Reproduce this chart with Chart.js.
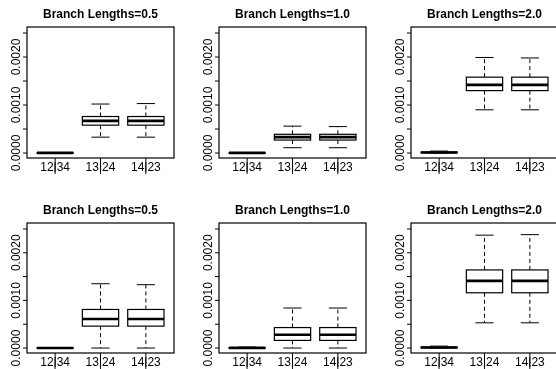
<!DOCTYPE html>
<html>
<head>
<meta charset="utf-8">
<script src="https://cdn.jsdelivr.net/npm/chart.js@4.4.1/dist/chart.umd.min.js"></script>
<style>
  html, body { margin: 0; padding: 0; background: #fff; overflow: hidden; }
  #wrap { position: relative; width: 556px; height: 369px; overflow: hidden; }
  #wrap canvas { position: absolute; }
</style>
</head>
<body>
<div id="wrap"></div>
<script>
// split names on the x axis and panel titles
var splits = ['12|34', '13|24', '14|23'];
var panelTitles = ['Branch Lengths=0.5', 'Branch Lengths=1.0', 'Branch Lengths=2.0'];

// y axis ticks (only every other one gets a label)
var yTicks = [0, 0.0005, 0.0010, 0.0015, 0.0020, 0.0025];
var yTickLabels = ['0.0000', '', '0.0010', '', '0.0020', ''];

// top row: per panel, one value per split
var topLow    = [[0, 0.00033, 0.00033], [0, 0.00011, 0.00011], [0, 0.00090, 0.00090]];
var topQ1     = [[0, 0.00058, 0.00058], [0, 0.00027, 0.00027], [0.000005, 0.00130, 0.00130]];
var topMedian = [[0.000002, 0.00067, 0.00067], [0.000002, 0.00033, 0.00033], [0.00001, 0.00142, 0.00142]];
var topQ3     = [[0.000004, 0.00076, 0.00076], [0.000005, 0.00039, 0.00039], [0.00002, 0.00158, 0.00158]];
var topHigh   = [[0.000008, 0.00102, 0.00103], [0.00001, 0.00056, 0.00055], [0.00004, 0.00199, 0.00198]];

// bottom row
var botLow    = [[0, 0, 0], [0, 0, 0], [0, 0.00053, 0.00053]];
var botQ1     = [[0, 0.00046, 0.00046], [0, 0.00016, 0.00016], [0.000005, 0.00116, 0.00116]];
var botMedian = [[0.000002, 0.00061, 0.00061], [0.000003, 0.00028, 0.00028], [0.00001, 0.00141, 0.00141]];
var botQ3     = [[0.000004, 0.00081, 0.00081], [0.000006, 0.00043, 0.00043], [0.00002, 0.00164, 0.00164]];
var botHigh   = [[0.000008, 0.00135, 0.00133], [0.00002, 0.00084, 0.00084], [0.00004, 0.00237, 0.00238]];

var boxLefts = [27, 219, 411];
var boxTops = [27, 223];
var boxW = 147, boxH = [131, 130];
var FONT = "'Liberation Sans', Arial, Helvetica, sans-serif";

// R style boxplot: frame, axes and boxes drawn through the chart scales
var rBoxplot = {
  id: 'rBoxplot',
  afterDatasetsDraw: function(chart) {
    var ctx = chart.ctx;
    var a = chart.chartArea;
    var xs = chart.scales.x, ys = chart.scales.y;
    var st = chart.options.plugins.rBoxplot;
    var unit = xs.getPixelForValue(2) - xs.getPixelForValue(1);
    ctx.save();
    ctx.strokeStyle = '#000';
    ctx.fillStyle = '#000';

    // boxes
    for (var i = 0; i < splits.length; i++) {
      var xc = xs.getPixelForValue(i + 1);
      var half = unit * 0.4, staple = unit * 0.2;
      var yLo = ys.getPixelForValue(st.low[i]);
      var yQ1 = ys.getPixelForValue(st.q1[i]);
      var yMed = ys.getPixelForValue(st.median[i]);
      var yQ3 = ys.getPixelForValue(st.q3[i]);
      var yHi = ys.getPixelForValue(st.high[i]);

      ctx.lineWidth = 1;
      ctx.setLineDash([4, 3]);
      ctx.beginPath();
      ctx.moveTo(xc, yQ3); ctx.lineTo(xc, yHi);
      ctx.moveTo(xc, yQ1); ctx.lineTo(xc, yLo);
      ctx.stroke();
      ctx.setLineDash([]);

      ctx.beginPath();
      ctx.moveTo(xc - staple, yHi); ctx.lineTo(xc + staple, yHi);
      ctx.moveTo(xc - staple, yLo); ctx.lineTo(xc + staple, yLo);
      ctx.stroke();

      ctx.fillStyle = '#fff';
      ctx.fillRect(xc - half, yQ3, half * 2, yQ1 - yQ3);
      ctx.lineWidth = 1.2;
      ctx.strokeRect(xc - half, yQ3, half * 2, yQ1 - yQ3);

      ctx.lineWidth = 2.6;
      ctx.beginPath();
      ctx.moveTo(xc - half, yMed); ctx.lineTo(xc + half, yMed);
      ctx.stroke();
    }

    // frame
    ctx.lineWidth = 1.2;
    ctx.strokeRect(a.left, a.top, a.right - a.left, a.bottom - a.top);

    // y axis
    ctx.lineWidth = 1;
    ctx.fillStyle = '#000';
    ctx.font = '12px ' + FONT;
    ctx.textAlign = 'center';
    ctx.textBaseline = 'alphabetic';
    ctx.beginPath();
    yTicks.forEach(function(t) {
      var y = ys.getPixelForValue(t);
      ctx.moveTo(a.left - 4, y); ctx.lineTo(a.left, y);
    });
    ctx.stroke();
    yTicks.forEach(function(t, k) {
      if (!yTickLabels[k]) return;
      var y = ys.getPixelForValue(t);
      ctx.save();
      ctx.translate(a.left - 7, y);
      ctx.rotate(-Math.PI / 2);
      ctx.fillText(yTickLabels[k], 0, 0);
      ctx.restore();
    });

    // x axis
    ctx.beginPath();
    splits.forEach(function(s, i) {
      var x = xs.getPixelForValue(i + 1);
      ctx.moveTo(x, a.bottom); ctx.lineTo(x, a.bottom + 14);
    });
    ctx.stroke();
    splits.forEach(function(s, i) {
      ctx.fillText(s, xs.getPixelForValue(i + 1), a.bottom + 13);
    });
    ctx.restore();
  }
};

function makePanel(row, col) {
  var low = row == 0 ? topLow : botLow;
  var q1 = row == 0 ? topQ1 : botQ1;
  var med = row == 0 ? topMedian : botMedian;
  var q3 = row == 0 ? topQ3 : botQ3;
  var high = row == 0 ? topHigh : botHigh;

  var canvas = document.createElement('canvas');
  var cw = 27 + boxW + 12, ch = 27 + boxH[row] + 22;
  canvas.width = cw; canvas.height = ch;
  canvas.style.left = (boxLefts[col] - 27) + 'px';
  canvas.style.top = (boxTops[row] - 27) + 'px';
  canvas.style.width = cw + 'px'; canvas.style.height = ch + 'px';
  document.getElementById('wrap').appendChild(canvas);

  return new Chart(canvas, {
    type: 'scatter',
    data: {
      datasets: [{
        data: med[col].map(function(v, i) { return {x: i + 1, y: v}; }),
        pointRadius: 0
      }]
    },
    options: {
      responsive: false,
      animation: false,
      devicePixelRatio: 1,
      events: [],
      layout: { padding: { left: 27, right: 12, top: 0, bottom: 22 } },
      scales: {
        x: { type: 'linear', min: 0.38, max: 3.62, display: false },
        y: { type: 'linear', min: -0.000104, max: 0.002625, display: false }
      },
      plugins: {
        legend: { display: false },
        tooltip: { enabled: false },
        title: {
          display: true,
          text: panelTitles[col],
          color: '#000',
          font: { family: FONT, size: 12, weight: 'bold', lineHeight: 1.2 },
          padding: { top: 7.3, bottom: 5.3 }
        },
        rBoxplot: { low: low[col], q1: q1[col], median: med[col], q3: q3[col], high: high[col] }
      }
    },
    plugins: [rBoxplot]
  });
}

for (var r = 0; r < 2; r++) {
  for (var c = 0; c < 3; c++) {
    makePanel(r, c);
  }
}
</script>
</body>
</html>
